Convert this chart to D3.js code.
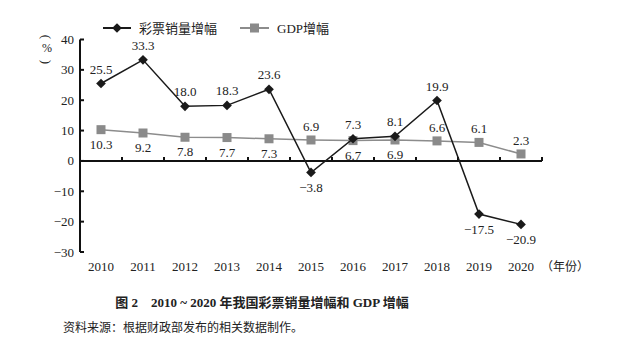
<!DOCTYPE html>
<html>
<head>
<meta charset="utf-8">
<script src="https://cdn.jsdelivr.net/npm/d3@7"></script>
<style>
  body { margin: 0; background: #fff; }
  text { font-family: "Liberation Serif", "Noto Sans CJK SC", serif; fill: #222; }
</style>
</head>
<body>
<svg></svg>
<script>
const years = ['2010', '2011', '2012', '2013', '2014', '2015', '2016', '2017', '2018', '2019', '2020'];
const lottery = [25.5, 33.3, 18.0, 18.3, 23.6, -3.8, 7.3, 8.1, 19.9, -17.5, -20.9];
const gdp = [10.3, 9.2, 7.8, 7.7, 7.3, 6.9, 6.7, 6.9, 6.6, 6.1, 2.3];
const yTicks = [-30, -20, -10, 0, 10, 20, 30, 40];
const gdpLabelAbove = ['2015', '2018', '2019', '2020'];

const svgWidth = 619;
const svgHeight = 353;

const svg = d3.select('svg')
    .attr('width', svgWidth)
    .attr('height', svgHeight);

const xScale = d3.scaleBand()
    .domain(years)
    .range([80, 542])
    .padding(0);

const yScale = d3.scaleLinear()
    .domain([-30, 40])
    .range([252, 39.5]);

const cx = d => xScale(d) + xScale.bandwidth() / 2;

// y axis
svg.append('line')
    .attr('x1', 80).attr('x2', 80)
    .attr('y1', yScale(40)).attr('y2', yScale(-30))
    .attr('stroke', '#111').attr('stroke-width', 2);

svg.selectAll('.ytick')
    .data(yTicks)
    .enter()
    .append('line')
    .attr('x1', 80).attr('x2', 84)
    .attr('y1', d => yScale(d)).attr('y2', d => yScale(d))
    .attr('stroke', '#111').attr('stroke-width', 2);

svg.selectAll('.ylabel')
    .data(yTicks)
    .enter()
    .append('text')
    .attr('x', 74)
    .attr('y', d => yScale(d) + 4.5)
    .attr('text-anchor', 'end')
    .attr('font-size', '13px')
    .text(d => d < 0 ? '\u2212' + Math.abs(d) : d);

// (%) unit label, vertical
const unit = svg.append('g').attr('transform', 'translate(47, 48)');
unit.append('text').attr('transform', 'translate(0,-11) rotate(90)').attr('text-anchor', 'middle').attr('dy', '0.35em').attr('font-size', '13px').text('(');
unit.append('text').attr('y', 4).attr('text-anchor', 'middle').attr('font-size', '12px').text('%');
unit.append('text').attr('transform', 'translate(0,14) rotate(90)').attr('text-anchor', 'middle').attr('dy', '0.35em').attr('font-size', '13px').text(')');

// x axis at zero
svg.append('line')
    .attr('x1', 80).attr('x2', 542)
    .attr('y1', yScale(0)).attr('y2', yScale(0))
    .attr('stroke', '#111').attr('stroke-width', 2);

svg.selectAll('.xtick')
    .data(years.slice(1).concat(['end']))
    .enter()
    .append('line')
    .attr('x1', (d, i) => 80 + xScale.bandwidth() * (i + 1))
    .attr('x2', (d, i) => 80 + xScale.bandwidth() * (i + 1))
    .attr('y1', yScale(0)).attr('y2', yScale(0) - 4)
    .attr('stroke', '#111').attr('stroke-width', 2);

svg.selectAll('.xlabel')
    .data(years)
    .enter()
    .append('text')
    .attr('x', d => cx(d))
    .attr('y', 271)
    .attr('text-anchor', 'middle')
    .attr('font-size', '13px')
    .text(d => d);

svg.append('text')
    .attr('x', 541)
    .attr('y', 271)
    .attr('font-size', '12px')
    .attr('fill', '#333')
    .text('（年份）');

// lines
const line = d3.line().x((d, i) => cx(years[i])).y(d => yScale(d));

svg.append('path')
    .datum(gdp)
    .attr('d', line)
    .attr('fill', 'none')
    .attr('stroke', '#8c8c8c')
    .attr('stroke-width', 1.5);

svg.selectAll('.gdpPt')
    .data(gdp)
    .enter()
    .append('rect')
    .attr('x', (d, i) => cx(years[i]) - 4.5)
    .attr('y', d => yScale(d) - 4.5)
    .attr('width', 9).attr('height', 9)
    .attr('fill', '#8a8a8a');

svg.append('path')
    .datum(lottery)
    .attr('d', line)
    .attr('fill', 'none')
    .attr('stroke', '#1a1a1a')
    .attr('stroke-width', 1.5);

const diamond = d3.symbol().type(d3.symbolDiamond2).size(60);

svg.selectAll('.lotPt')
    .data(lottery)
    .enter()
    .append('path')
    .attr('d', diamond)
    .attr('transform', (d, i) => `translate(${cx(years[i])},${yScale(d)})`)
    .attr('fill', '#1a1a1a');

const fmt = v => (v < 0 ? '\u2212' + Math.abs(v).toFixed(1) : v.toFixed(1));

// data labels
svg.selectAll('.lotLabel')
    .data(lottery)
    .enter()
    .append('text')
    .attr('x', (d, i) => cx(years[i]))
    .attr('y', (d, i) => d > gdp[i] ? yScale(d) - 10 : yScale(d) + 20)
    .attr('text-anchor', 'middle')
    .attr('font-size', '13px')
    .text(fmt);

svg.selectAll('.gdpLabel')
    .data(gdp)
    .enter()
    .append('text')
    .attr('x', (d, i) => cx(years[i]))
    .attr('y', (d, i) => gdpLabelAbove.includes(years[i]) ? yScale(d) - 9 : yScale(d) + 19)
    .attr('text-anchor', 'middle')
    .attr('font-size', '13px')
    .text(fmt);

// legend
const legend = svg.append('g').attr('transform', 'translate(0, 28)');
legend.append('line').attr('x1', 103).attr('x2', 131).attr('y1', 0).attr('y2', 0)
    .attr('stroke', '#1a1a1a').attr('stroke-width', 2);
legend.append('path').attr('d', diamond).attr('transform', 'translate(117,0)').attr('fill', '#1a1a1a');
legend.append('text').attr('x', 139).attr('y', 5).attr('font-size', '13px').text('彩票销量增幅');

legend.append('line').attr('x1', 240).attr('x2', 269).attr('y1', 0).attr('y2', 0)
    .attr('stroke', '#8c8c8c').attr('stroke-width', 2);
legend.append('rect').attr('x', 250).attr('y', -4.5).attr('width', 9).attr('height', 9).attr('fill', '#8a8a8a');
legend.append('text').attr('x', 277).attr('y', 5).attr('font-size', '13px').text('GDP增幅');

// caption
svg.append('text')
    .attr('x', 262)
    .attr('y', 307)
    .attr('text-anchor', 'middle')
    .attr('font-size', '13px')
    .attr('font-weight', 'bold')
    .text('图 2　2010 ~ 2020 年我国彩票销量增幅和 GDP 增幅');

svg.append('text')
    .attr('x', 63)
    .attr('y', 332)
    .attr('font-size', '12px')
    .attr('fill', '#333')
    .text('资料来源：根据财政部发布的相关数据制作。');
</script>
</body>
</html>
